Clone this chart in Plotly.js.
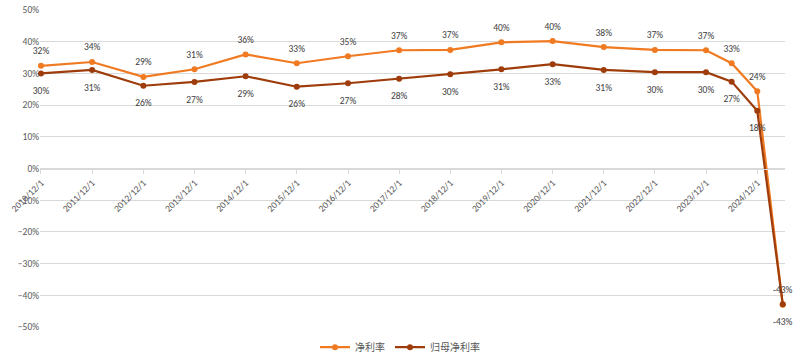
<!DOCTYPE html>
<html>
<head>
<meta charset="utf-8">
<script src="https://cdn.plot.ly/plotly-3.0.1.min.js"></script>
<style>html,body{margin:0;padding:0;background:#fff;}#chart{width:800px;height:362px;}</style>
</head>
<body>
<div id="chart"></div>
<script>
const dates = ['2010-12-01','2011-12-01','2012-12-01','2013-12-01','2014-12-01','2015-12-01','2016-12-01','2017-12-01','2018-12-01','2019-12-01','2020-12-01','2021-12-01','2022-12-01','2023-12-01','2024-06-01','2024-12-01','2025-06-01'];
const netMargin = [32.4, 33.6, 28.9, 31.3, 36.0, 33.2, 35.4, 37.3, 37.4, 39.8, 40.2, 38.3, 37.4, 37.3, 33.2, 24.4, -43.0];
const parentNetMargin = [30.0, 31.1, 26.1, 27.3, 29.1, 25.8, 26.9, 28.3, 29.7, 31.3, 32.9, 31.1, 30.4, 30.4, 27.4, 18.2, -42.8];
const tickDates = ['2010-12-01','2011-12-01','2012-12-01','2013-12-01','2014-12-01','2015-12-01','2016-12-01','2017-12-01','2018-12-01','2019-12-01','2020-12-01','2021-12-01','2022-12-01','2023-12-01','2024-12-01'];
const tickLabels = ['2010/12/1','2011/12/1','2012/12/1','2013/12/1','2014/12/1','2015/12/1','2016/12/1','2017/12/1','2018/12/1','2019/12/1','2020/12/1','2021/12/1','2022/12/1','2023/12/1','2024/12/1'];
const seriesNames = ['净利率','归母净利率'];

const fmt = v => Math.round(v) + '%';
const FONT = 'Calibri, Carlito, "Open Sans", "Noto Sans CJK SC", sans-serif';
const ORANGE = '#F07A22', BROWN = '#9E3D0B';

const traces = [
  {
    x: dates, y: netMargin, name: seriesNames[0], type: 'scatter', mode: 'lines+markers',
    line: {color: ORANGE, width: 2.2}, marker: {color: ORANGE, size: 6}, cliponaxis: false
  },
  {
    x: dates, y: parentNetMargin, name: seriesNames[1], type: 'scatter', mode: 'lines+markers',
    line: {color: BROWN, width: 2.2}, marker: {color: BROWN, size: 6}, cliponaxis: false
  },
  {
    x: dates, y: netMargin, type: 'scatter', mode: 'markers+text', showlegend: false, hoverinfo: 'skip',
    marker: {color: 'rgba(0,0,0,0)', size: 13},
    text: netMargin.map(fmt), textposition: 'top center',
    textfont: {size: 9.5, color: '#404040', family: FONT}, cliponaxis: false
  },
  {
    x: dates, y: parentNetMargin, type: 'scatter', mode: 'markers+text', showlegend: false, hoverinfo: 'skip',
    marker: {color: 'rgba(0,0,0,0)', size: 20},
    text: parentNetMargin.map(fmt), textposition: 'bottom center',
    textfont: {size: 9.5, color: '#404040', family: FONT}, cliponaxis: false
  }
];

const layout = {
  width: 800, height: 362,
  margin: {l: 40, r: 15, t: 10, b: 35},
  paper_bgcolor: '#fff', plot_bgcolor: '#fff',
  font: {family: FONT, size: 9.5, color: '#595959'},
  showlegend: true,
  legend: {orientation: 'h', xref: 'container', yref: 'container', x: 0.5, xanchor: 'center', y: 0.041, yanchor: 'middle',
           font: {size: 10, color: '#595959'}, itemwidth: 30},
  xaxis: {
    type: 'date', range: ['2010-11-24','2025-06-17'],
    tickvals: tickDates, ticktext: tickLabels, tickangle: -45,
    anchor: 'free', position: 0.5,
    showgrid: false, zeroline: false,
    showline: true, linecolor: '#d9d9d9', linewidth: 1,
    ticks: 'outside', ticklen: 4, tickcolor: '#d9d9d9',
    tickfont: {size: 9.5, color: '#595959'}
  },
  yaxis: {
    range: [-50, 50], dtick: 10, tick0: 0, ticksuffix: '%',
    showgrid: true, gridcolor: '#d9d9d9', gridwidth: 1,
    zeroline: false, showline: false, ticks: '',
    tickfont: {size: 9.5, color: '#595959'}
  }
};

Plotly.newPlot('chart', traces, layout, {displayModeBar: false, staticPlot: true});
</script>
</body>
</html>
